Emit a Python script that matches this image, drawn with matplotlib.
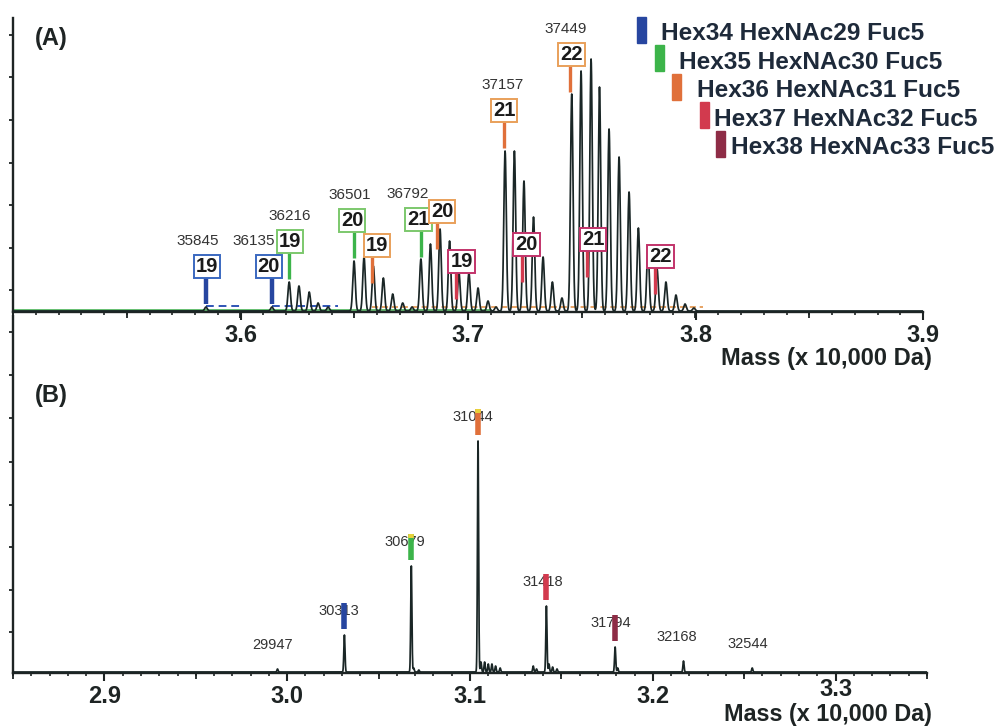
import numpy as np
import matplotlib
matplotlib.use('Agg')
import matplotlib.pyplot as plt
from matplotlib import font_manager as fm
from matplotlib.ticker import MultipleLocator
from matplotlib.transforms import blended_transform_factory

# ---------------- data ----------------
# Panel A : deconvoluted spectrum, peak masses (Da) and heights (arb.)
peak_mass_A = [35848, 36138, 36214, 36257, 36302, 36341, 36385, 36499, 36543,
               36584, 36628, 36669, 36713, 36754, 36793, 36835, 36877, 36919,
               36960, 37004, 37044, 37088, 37123, 37163, 37204, 37246, 37288,
               37330, 37371, 37413, 37456, 37497, 37541, 37578, 37620, 37664,
               37708, 37749, 37791, 37831, 37870, 37914, 37954, 37993]
peak_int_A = [4, 4, 29, 25, 19, 8, 4, 50, 54,
              45, 33, 17, 8, 4, 52, 67, 82, 70,
              39, 38, 23, 10, 4, 160, 160, 130, 94,
              54, 29, 13, 217, 240, 252, 224, 182, 154,
              119, 83, 62, 42, 29, 16, 7, 3]

# annotated glycoform boxes in panel A
box_series = ['Hex34', 'Hex34', 'Hex35', 'Hex35', 'Hex35', 'Hex36', 'Hex36',
              'Hex36', 'Hex36', 'Hex37', 'Hex37', 'Hex37', 'Hex37']
box_number = [19, 20, 19, 20, 21, 19, 20, 21, 22, 19, 20, 21, 22]
box_mass = [35848, 36138, 36214, 36499, 36793, 36578, 36864, 37158, 37450,
            36947, 37237, 37523, 37822]
box_level = [34, 34, 59, 80, 81, 55, 89, 190, 246, 39, 56, 61, 44]
box_label = ['35845', '36135', '36216', '36501', '36792', '', '', '37157',
             '37449', '', '', '', '']

# fitted envelopes (dashed) in panel A
blue_fit = [(35848, 36007), (36138, 36429)]
orange_fit = [(36578, 38033)]
green_fit = [(35000, 37100)]

# Panel B : peak masses (Da) and heights
peak_mass_B = [29947, 30313, 30679, 30692, 30720, 31044, 31060, 31080, 31100,
               31120, 31140, 31165, 31346, 31364, 31418, 31432, 31452, 31476,
               31794, 31808, 32168, 32544]
peak_int_B = [3, 37, 106, 4, 2, 231, 10, 10, 8,
              8, 6, 4, 6, 3, 66, 8, 5, 3,
              25, 4, 11, 4]
label_B = ['29947', '30313', '30679', '31044', '31418', '31794', '32168', '32544']
label_B_series = ['', 'Hex34', 'Hex35', 'Hex36', 'Hex37', 'Hex38', '', '']

ticks_A = [3.6, 3.7, 3.8, 3.9]
ticks_B = [2.9, 3.0, 3.1, 3.2, 3.3]

legend_labels = ['Hex34 HexNAc29 Fuc5', 'Hex35 HexNAc30 Fuc5', 'Hex36 HexNAc31 Fuc5',
                 'Hex37 HexNAc32 Fuc5', 'Hex38 HexNAc33 Fuc5']
legend_keys = ['Hex34', 'Hex35', 'Hex36', 'Hex37', 'Hex38']

# ---------------- style ----------------
def has_font(name):
    try:
        fm.findfont(fm.FontProperties(family=name), fallback_to_default=False)
        return True
    except Exception:
        return False

SANS = 'Liberation Sans' if has_font('Liberation Sans') else 'DejaVu Sans'

stem_col = {'Hex34': '#2746a0', 'Hex35': '#3cb44a', 'Hex36': '#e0703a',
            'Hex37': '#d23a4e', 'Hex38': '#8e2c46'}
edge_col = {'Hex34': '#3a68c0', 'Hex35': '#7cc86c', 'Hex36': '#e9a05a',
            'Hex37': '#c2336a', 'Hex38': '#8e2c46'}
box_dx = [1, -3, 1, -2, -2.5, 5, 5, 0, 1, 5.5, 4.5, 6, 5.5]
label_dx = [-8, -18, 1, -4, -13, 0, 0, -1, -5, 0, 0, 0, 0]
labelB_dx = [-5, -6, -6, -5, -4, -4, -7, -4]

AXC = '#1e2424'
LINE = '#1a2626'

W, H = 998, 726
def fx(px):
    return px / W
def fy(py):
    return 1 - py / H

fig = plt.figure(figsize=(W / 100, H / 100), dpi=100)
fig.patch.set_facecolor('white')

axA = fig.add_axes([fx(13), fy(312), fx(923) - fx(13), fy(18) - fy(312)])
axB = fig.add_axes([fx(13), fy(673), fx(927) - fx(13), fy(316) - fy(673)])


def style(ax, xlo, xhi, majors, shown, ytks, ytop):
    ax.set_xlim(xlo, xhi)
    ax.set_ylim(0, ytop)
    ax.patch.set_alpha(0)
    for s in ['top', 'right']:
        ax.spines[s].set_visible(False)
    for s in ['left', 'bottom']:
        ax.spines[s].set_linewidth(1.7)
        ax.spines[s].set_color(AXC)
    ax.set_xticks(majors)
    ax.set_xticklabels([f'{v:.1f}' if v in shown else '' for v in majors],
                       fontsize=17, fontweight='bold', family=SANS, color=AXC)
    ax.xaxis.set_minor_locator(MultipleLocator(0.01))
    ax.tick_params(axis='x', which='major', direction='out', length=5.5,
                   width=1.5, pad=3.0, colors=AXC)
    ax.tick_params(axis='x', which='minor', direction='out', length=2.5,
                   width=1.2, colors=AXC)
    ax.set_yticks(ytks)
    ax.set_yticklabels([])
    ax.tick_params(axis='y', which='major', direction='out', length=3,
                   width=1.3, colors=AXC)
    trans = blended_transform_factory(ax.transData, ax.transAxes)
    hpx = ax.get_position().height * H
    mids = np.arange(np.ceil(xlo / 0.05) * 0.05, xhi + 1e-9, 0.05)
    for m in mids:
        ax.plot([m, m], [0, -5.5 / hpx], transform=trans, color=AXC, lw=1.3,
                clip_on=False, solid_capstyle='butt')


style(axA, 3.5, 3.9, ticks_A, ticks_A,
      [22, 64, 107, 149, 192, 235, 277], 294)
style(axB, 2.85, 3.35, ticks_B, ticks_B[:-1],
      [41, 83, 126, 168, 211, 255, 298, 341], 357)
# last tick label of panel B sits a little higher, tucked over the axis title
axB.annotate(f'{ticks_B[-1]:.1f}', xy=(ticks_B[-1], 0), xytext=(0, -17),
             textcoords='offset pixels', ha='center', va='center',
             fontsize=17, fontweight='bold', family=SANS, color=AXC,
             annotation_clip=False)


def profile(grid, masses, ints, sigma):
    y = np.zeros_like(grid)
    for m, h in zip(masses, ints):
        y += h * np.exp(-0.5 * ((grid - m) / sigma) ** 2)
    return y


# ---- Panel A ----
gA = np.arange(35000, 39001, 1.0)
yA = 1.0 + profile(gA, peak_mass_A, peak_int_A, 5.5)

for a, b in green_fit:
    axA.plot([a / 1e4, b / 1e4], [2.5, 2.5], color='#3cae4a', lw=1.1, zorder=2)
for a, b in orange_fit:
    axA.plot([a / 1e4, b / 1e4], [5, 5], color='#e08a3a', lw=1.1,
             ls=(0, (4, 2.5)), zorder=2)
for a, b in blue_fit:
    axA.plot([a / 1e4, b / 1e4], [6.5, 6.5], color='#2f55b5', lw=1.4,
             ls=(0, (4, 2.5)), zorder=2)

axA.plot(gA / 1e4, yA, color=LINE, lw=1.25, zorder=3)

for i in range(len(box_number)):
    s = box_series[i]
    x = box_mass[i] / 1e4
    top = box_level[i]
    lw = 3.2 if s == 'Hex34' else 2.4
    axA.plot([x, x], [top - 26, top], color=stem_col[s], lw=lw, zorder=4,
             solid_capstyle='butt')
    axA.annotate(str(box_number[i]), xy=(x, top), xytext=(box_dx[i], 2.3),
                 textcoords='offset pixels', ha='center', va='bottom',
                 fontsize=14.5, fontweight='bold', family=SANS, color='#1a1a1a',
                 zorder=5,
                 bbox=dict(boxstyle='square,pad=0.1', fc='white',
                           ec=edge_col[s], lw=1.4))
    if box_label[i]:
        axA.annotate(box_label[i], xy=(x, top), xytext=(label_dx[i], 37),
                     textcoords='offset pixels', ha='center', va='center',
                     fontsize=11, family=SANS, color='#333333', zorder=6)

# ---- Panel B ----
gB = np.arange(28500, 33501, 1.0)
yB = 1.0 + profile(gB, peak_mass_B, peak_int_B, 3.2)
axB.plot(gB / 1e4, yB, color=LINE, lw=1.25, zorder=3)

for i, lab in enumerate(label_B):
    m = int(lab)
    h = peak_int_B[peak_mass_B.index(m)]
    x = m / 1e4
    axB.annotate(lab, xy=(x, h), xytext=(labelB_dx[i], 25),
                 textcoords='offset pixels', ha='center', va='center',
                 fontsize=10.5, family=SANS, color='#333333', zorder=4)
    s = label_B_series[i]
    if s:
        axB.plot([x, x], [h + 7, h + 33], color=stem_col[s], lw=4.0,
                 zorder=5, solid_capstyle='butt')
        if s in ('Hex35', 'Hex36'):
            axB.plot([x, x], [h + 29, h + 33], color='#e8d23a', lw=4.0,
                     zorder=6, solid_capstyle='butt')

# ---- figure texts ----
fig.text(fx(35), fy(39), '(A)', fontsize=17, fontweight='bold', family=SANS,
         color=AXC, ha='left', va='center')
fig.text(fx(35), fy(396), '(B)', fontsize=17, fontweight='bold', family=SANS,
         color=AXC, ha='left', va='center')
fig.text(fx(932), fy(358), 'Mass (x 10,000 Da)', fontsize=17, fontweight='bold',
         family=SANS, color=AXC, ha='right', va='center')
fig.text(fx(932), fy(715), 'Mass (x 10,000 Da)', fontsize=16.8, fontweight='bold',
         family=SANS, color=AXC, ha='right', va='center')

bar_x = [637, 655, 672, 700, 716]
text_x = [661, 679, 697, 714, 731]
for i, (lab, k) in enumerate(zip(legend_labels, legend_keys)):
    yc = 30 + 28.4 * i
    fig.patches.append(plt.Rectangle((fx(bar_x[i]), fy(yc + 13)), 9 / W, 26 / H,
                                     transform=fig.transFigure,
                                     color=stem_col[k], zorder=5))
    fig.text(fx(text_x[i]), fy(yc + 4), lab, fontsize=17.6, fontweight='bold',
             family=SANS, color='#1e2a3a', ha='left', va='center')

fig.savefig('out.png', dpi=100, facecolor='white')
